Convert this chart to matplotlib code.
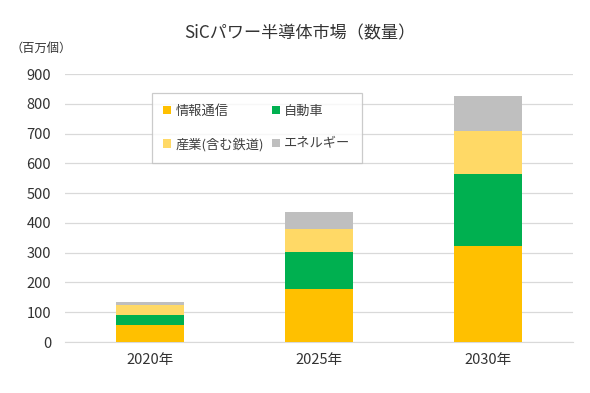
import matplotlib
matplotlib.use("Agg")
import matplotlib.pyplot as plt
import numpy as np

plt.rcParams['font.family'] = ['Noto Sans CJK JP', 'DejaVu Sans']

years = ['2020年', '2025年', '2030年']
series_names = ['情報通信', '自動車', '産業(含む鉄道)', 'エネルギー']
info_comm = [57, 177, 322]
automotive = [33, 126, 243]
industry = [34, 78, 143]
energy = [12, 54, 117]
colors = ['#FFC000', '#00B050', '#FFD966', '#BFBFBF']
yticks = [0, 100, 200, 300, 400, 500, 600, 700, 800, 900]

fig = plt.figure(figsize=(5.9, 3.93), dpi=100)
ax = fig.add_axes([65/590, 1-342/393, 508/590, 268/393])

x = np.arange(len(years))
bottom = np.zeros(len(years))
handles = []
for vals, c, name in zip([info_comm, automotive, industry, energy], colors, series_names):
    h = ax.bar(x, vals, 0.4, bottom=bottom, color=c, label=name, zorder=3)
    handles.append(h)
    bottom += np.array(vals)

ax.set_xlim(-0.5, 2.5)
ax.set_ylim(0, 900)
ax.set_yticks(yticks)
ax.set_yticklabels([str(v) for v in yticks], fontsize=10.5, color='#333333')
ax.set_xticks(x)
ax.set_xticklabels(years, fontsize=10.5, color='#333333')
ax.tick_params(axis='both', length=0)
ax.tick_params(axis='y', pad=10)
ax.tick_params(axis='x', pad=8)
ax.grid(axis='y', color='#D9D9D9', linewidth=0.9, zorder=0)
for s in ['top', 'right', 'left']:
    ax.spines[s].set_visible(False)
ax.spines['bottom'].set_color('#D9D9D9')

fig.text(300/590, 1-33/393, 'SiCパワー半導体市場（数量）', ha='center', va='center',
         fontsize=12.3, color='#333333')
fig.text(41/590, 1-48/393, '（百万個）', ha='center', va='center', fontsize=8.8, color='#333333')

# legend order: row-major (情報通信, 自動車 / 産業, エネルギー)
order = [0, 2, 1, 3]
leg = ax.legend(handles=[handles[i] for i in order], labels=[series_names[i] for i in order],
                ncol=2, loc='center',
                bbox_to_anchor=((145-65)/508, 1-(162-74)/268, (369-145)/508, (162-94)/268),
                mode='expand', fontsize=9.5, frameon=True, fancybox=False,
                handlelength=0.6, handleheight=0.6, handletextpad=0.3,
                columnspacing=0.8, labelspacing=1.5, borderpad=0.9, labelcolor='#404040')
leg.get_frame().set_edgecolor('#BFBFBF')
leg.get_frame().set_linewidth(0.9)
leg.set_zorder(5)

fig.savefig('out.png', dpi=100)
